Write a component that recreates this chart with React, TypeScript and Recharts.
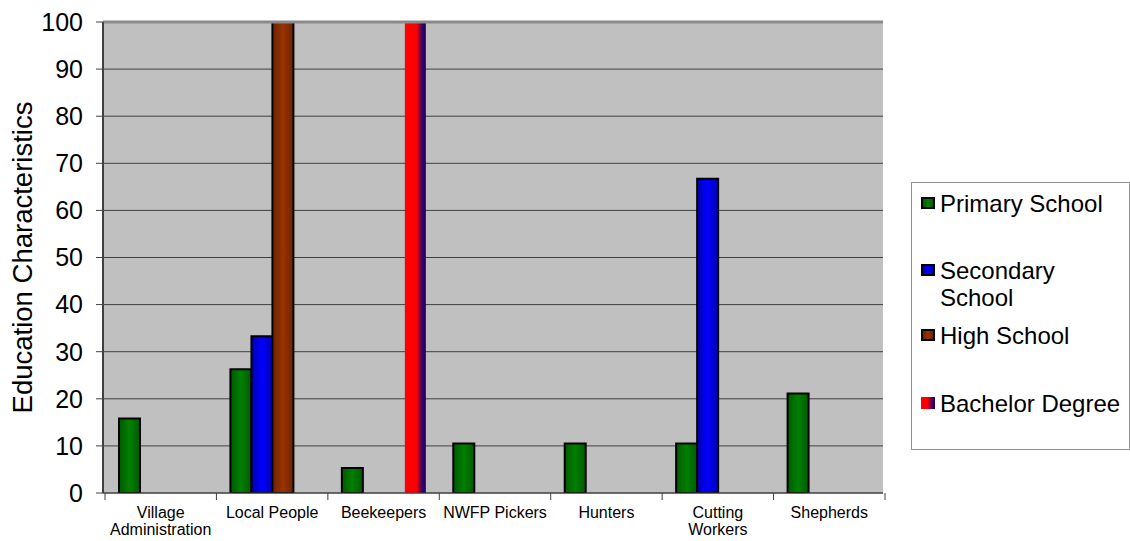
import { BarChart, Bar, XAxis, YAxis, CartesianGrid, ReferenceLine } from 'recharts'

const categories = [
  'Village Administration',
  'Local People',
  'Beekeepers',
  'NWFP Pickers',
  'Hunters',
  'Cutting Workers',
  'Shepherds'
]
const tickLabels = [
  'Village\nAdministration',
  'Local People',
  'Beekeepers',
  'NWFP Pickers',
  'Hunters',
  'Cutting\nWorkers',
  'Shepherds'
]
const primarySchool = [15.8, 26.3, 5.3, 10.5, 10.5, 10.5, 21.1]
const secondarySchool = [null, 33.3, null, null, null, 66.7, null]
const highSchool = [null, 100, null, null, null, null, null]
const bachelorDegree = [null, null, 100, null, null, null, null]
const yTicks = [0, 10, 20, 30, 40, 50, 60, 70, 80, 90, 100]

const seriesNames = ['Primary School', 'Secondary School', 'High School', 'Bachelor Degree']

const FONT = '"Liberation Sans", Arial, sans-serif'
const W = 1130
const H = 541
const MARGIN = { top: 22, right: 247, bottom: 0, left: 0 }
const Y_AXIS_W = 103
const PLOT_W = W - MARGIN.left - MARGIN.right - Y_AXIS_W
const BAND_HALF = PLOT_W / categories.length / 2

const chartData = categories.map((name, i) => ({
  name,
  primary: primarySchool[i],
  secondary: secondarySchool[i],
  high: highSchool[i],
  bachelor: bachelorDegree[i]
}))

const CategoryTick = (props: any) => {
  const { x, y, index } = props
  const lines = tickLabels[index].split('\n')
  return (
    <g>
      <line x1={x - BAND_HALF} x2={x - BAND_HALF} y1={y} y2={y + 7} stroke="#404040" />
      {index === categories.length - 1 && (
        <line x1={x + BAND_HALF} x2={x + BAND_HALF} y1={y} y2={y + 7} stroke="#404040" />
      )}
      <text x={x} y={y + 25} textAnchor="middle" fontSize={16} fontFamily={FONT} fill="#000">
        {lines.map((l, i) => (
          <tspan key={i} x={x} dy={i === 0 ? 0 : 17}>{l}</tspan>
        ))}
      </text>
    </g>
  )
}

const renderYLabel = (props: any) => {
  const vb = props.viewBox || { x: 0, y: MARGIN.top, width: Y_AXIS_W, height: 471 }
  const cx = vb.x + 22
  const cy = vb.y + vb.height / 2
  return (
    <text
      x={cx}
      y={cy}
      transform={`rotate(-90, ${cx}, ${cy})`}
      textAnchor="middle"
      dominantBaseline="central"
      fontSize={27.5}
      fontFamily={FONT}
      fill="#000"
    >
      Education Characteristics
    </text>
  )
}

const swatches = [
  { bg: 'linear-gradient(to right, #005a00, #008000, #005a00)', border: '2px solid #000' },
  { bg: 'linear-gradient(to right, #0000b0, #0000ff, #0000b0)', border: '2px solid #000' },
  { bg: 'linear-gradient(to right, #6b2400, #993300, #6b2400)', border: '2px solid #000' },
  { bg: 'linear-gradient(to right, #ff0000 45%, #330066 85%, #1a0066)', border: 'none' }
]
// vertical centre of each legend entry's first line, from the box top
const legendRows = [21, 88, 153, 221]

function ChartLegend() {
  return (
    <div
      style={{
        position: 'absolute',
        left: 911,
        top: 182,
        width: 219,
        height: 268,
        boxSizing: 'border-box',
        border: '1px solid #909090',
        background: '#fff',
        fontFamily: FONT
      }}
    >
      {seriesNames.map((name, i) => (
        <div key={name}>
          <div
            style={{
              position: 'absolute',
              left: 9,
              top: legendRows[i] - 7,
              width: 14,
              height: 12,
              boxSizing: 'border-box',
              background: swatches[i].bg,
              border: swatches[i].border
            }}
          />
          <div
            style={{
              position: 'absolute',
              left: 28,
              top: legendRows[i] - 14,
              width: 186,
              fontSize: 24,
              lineHeight: '27px',
              color: '#000'
            }}
          >
            {name}
          </div>
        </div>
      ))}
    </div>
  )
}

export default function App() {
  return (
    <div style={{ position: 'relative', width: W, height: H, background: '#fff' }}>
      <style>{'body{margin:0}'}</style>
      <BarChart
        width={W}
        height={H}
        data={chartData}
        margin={MARGIN}
        barSize={21}
        barGap={0}
      >
        <defs>
          <linearGradient id="gPrimary" x1="0" y1="0" x2="1" y2="0">
            <stop offset="0%" stopColor="#005a00" />
            <stop offset="50%" stopColor="#008000" />
            <stop offset="100%" stopColor="#005a00" />
          </linearGradient>
          <linearGradient id="gSecondary" x1="0" y1="0" x2="1" y2="0">
            <stop offset="0%" stopColor="#0000b0" />
            <stop offset="50%" stopColor="#0000ff" />
            <stop offset="100%" stopColor="#0000b0" />
          </linearGradient>
          <linearGradient id="gHigh" x1="0" y1="0" x2="1" y2="0">
            <stop offset="0%" stopColor="#6b2400" />
            <stop offset="50%" stopColor="#993300" />
            <stop offset="100%" stopColor="#6b2400" />
          </linearGradient>
          <linearGradient id="gBachelor" x1="0" y1="0" x2="1" y2="0">
            <stop offset="0%" stopColor="#ff0000" />
            <stop offset="55%" stopColor="#ff0000" />
            <stop offset="82%" stopColor="#330066" />
            <stop offset="100%" stopColor="#1a0066" />
          </linearGradient>
        </defs>
        <CartesianGrid vertical={false} stroke="#404040" fill="#c0c0c0" fillOpacity={1} />
        <XAxis
          dataKey="name"
          interval={0}
          padding={{ left: 2, right: -2 }}
          tickLine={false}
          tickSize={0}
          tickMargin={0}
          height={48}
          axisLine={{ stroke: '#404040' }}
          tick={<CategoryTick />}
        />
        <YAxis
          domain={[0, 100]}
          ticks={yTicks}
          width={Y_AXIS_W}
          tickSize={7}
          tickMargin={13}
          axisLine={{ stroke: '#404040', strokeWidth: 2 }}
          tickLine={{ stroke: '#404040' }}
          tick={{ fontSize: 25, fontFamily: FONT, fill: '#000' }}
          label={{ value: 'Education Characteristics', content: renderYLabel }}
          allowDataOverflow
        />
        <YAxis
          yAxisId="border"
          orientation="right"
          width={0}
          tick={false}
          tickLine={false}
          axisLine={{ stroke: '#8a8a8a', strokeWidth: 3 }}
        />
        <ReferenceLine y={100} stroke="#8a8a8a" strokeWidth={3} />
        <Bar dataKey="primary" name={seriesNames[0]} fill="url(#gPrimary)" stroke="#000" strokeWidth={2} isAnimationActive={false} />
        <Bar dataKey="secondary" name={seriesNames[1]} fill="url(#gSecondary)" stroke="#000" strokeWidth={2} isAnimationActive={false} />
        <Bar dataKey="high" name={seriesNames[2]} fill="url(#gHigh)" stroke="#000" strokeWidth={2} isAnimationActive={false} />
        <Bar dataKey="bachelor" name={seriesNames[3]} fill="url(#gBachelor)" isAnimationActive={false} />
      </BarChart>
      <ChartLegend />
    </div>
  )
}
